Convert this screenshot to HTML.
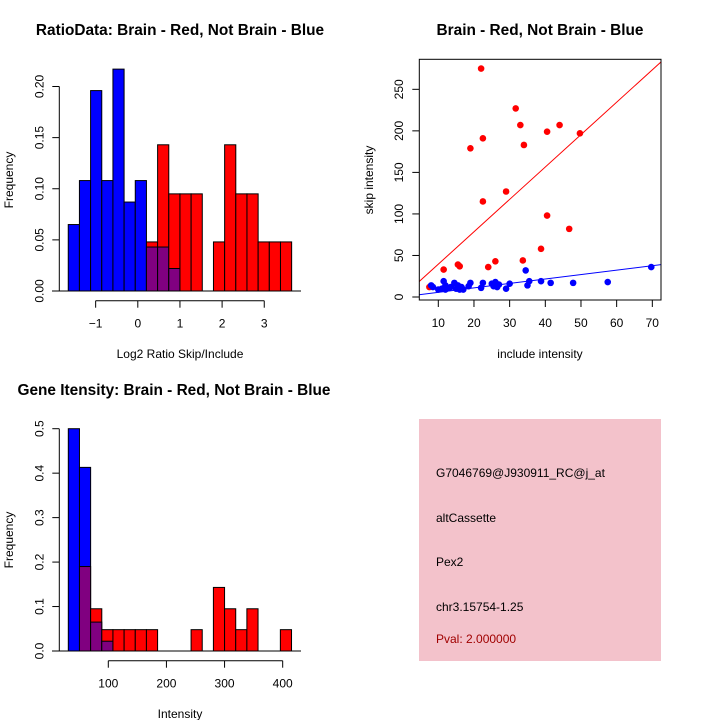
<!DOCTYPE html>
<html><head><meta charset="utf-8"><style>
body{margin:0;background:#fff}
svg{display:block;font-family:"Liberation Sans",sans-serif}
</style></head><body>
<svg id="s" width="720" height="720" xmlns="http://www.w3.org/2000/svg">
<rect width="720" height="720" fill="#fff"/>
<text x="180" y="35" text-anchor="middle" font-size="15.4" font-weight="bold">RatioData: Brain - Red, Not Brain - Blue</text>
<text x="180" y="358" text-anchor="middle" font-size="12">Log2 Ratio Skip/Include</text>
<text transform="translate(13,180) rotate(-90)" text-anchor="middle" font-size="12">Frequency</text>
<text x="540" y="35" text-anchor="middle" font-size="15.4" font-weight="bold">Brain - Red, Not Brain - Blue</text>
<text x="540" y="358" text-anchor="middle" font-size="12">include intensity</text>
<text transform="translate(373,180) rotate(-90)" text-anchor="middle" font-size="12">skip intensity</text>
<text x="174" y="395" text-anchor="middle" font-size="15.4" font-weight="bold">Gene Itensity: Brain - Red, Not Brain - Blue</text>
<text x="180" y="718" text-anchor="middle" font-size="12">Intensity</text>
<text transform="translate(13,540) rotate(-90)" text-anchor="middle" font-size="12">Frequency</text>
<g>
<rect x="419" y="419" width="242" height="242" fill="#f3c2cb"/>
<text x="436" y="477" font-size="12">G7046769@J930911_RC@j_at</text>
<text x="436" y="522" font-size="12">altCassette</text>
<text x="436" y="566" font-size="12">Pex2</text>
<text x="436" y="611" font-size="12">chr3.15754-1.25</text>
<text x="436" y="643" font-size="12" fill="#a00000">Pval: 2.000000</text>
</g>
</svg>
<script>
// Histogram 1 data
const ratioBinStart=-1.65, ratioBinWidth=0.265;
const ratioBlue=[0.065,0.108,0.196,0.108,0.217,0.087,0.108,0.043,0.043,0.022,0,0,0,0,0,0,0,0,0,0];
const ratioRed=[0,0,0,0,0,0,0,0.048,0.143,0.095,0.095,0.095,0,0.048,0.143,0.095,0.095,0.048,0.048,0.048];
const ratioXTicks=[-1,0,1,2,3];
const ratioYTicks=[0,0.05,0.10,0.15,0.20];
const ratioYLabels=["0.00","0.05","0.10","0.15","0.20"];
// Scatter data
const redInclude=[7.5,11.5,15.5,16,19,22,22.5,22.5,24,26,29,31.7,33,33.7,34,38.8,40.5,40.5,44,46.7,49.7];
const redSkip=[12,33,39,37,179,275,191,115,36,43,127,227,207,44,183,58,199,98,207,82,197];
const blueInclude=[8,8.5,10,11,11.5,12,12,13,13.5,14.5,15,15.5,16,16.5,17,18.5,19,22,22.5,25,25.5,26,26.5,27,29,30,34.5,35,35.5,38.8,41.5,47.8,57.5,69.7];
const blueSkip=[14,12,9,10,19,14,9,11,12,17,10,14,9,12,9,13,17,11,17,16,13,18,12,15,10,16,32,14,19,19,17,17,18,36];
const redFit=[0.5,3.9];
const blueFit=[0.3,0.533];
const scatterXTicks=[10,20,30,40,50,60,70];
const scatterYTicks=[0,50,100,150,200,250];
// Histogram 2 data
const intBinStart=31.2, intBinWidth=19.2;
const intBlue=[0.5,0.413,0.065,0.022,0,0,0,0,0,0,0,0,0,0,0,0,0,0,0,0];
const intRed=[0,0.19,0.095,0.048,0.048,0.048,0.048,0.048,0,0,0,0.048,0,0.143,0.095,0.048,0.095,0,0,0.048];
const intXTicks=[100,200,300,400];
const intYTicks=[0,0.1,0.2,0.3,0.4,0.5];
const intYLabels=["0.0","0.1","0.2","0.3","0.4","0.5"];

const svg=document.getElementById('s');
const NS='http://www.w3.org/2000/svg';
function mk(tag,attrs,parent){const e=document.createElementNS(NS,tag);for(const k in attrs)e.setAttribute(k,attrs[k]);(parent||svg).appendChild(e);return e;}

function hist(name,blue,red,start,w,sx,sy,xTicks,yTicks,yLabels,axY,axX,x0,x1,yTop){
  const g=mk('g',{});
  
  
  for(let i=0;i<blue.length;i++){
    const xa=sx(start+i*w), xb=sx(start+(i+1)*w);
    const b=blue[i], r=red[i], m=Math.min(b,r), mx=Math.max(b,r);
    if(mx<=0) continue;
    const topCol=b>r?'#0000ff':'#ff0000';
    const rt=mk('rect',{x:xa,y:sy(mx),width:xb-xa,height:sy(0)-sy(mx),fill:topCol,stroke:'#000','stroke-width':1},g);
    
    
    if(m>0){
      const rp=mk('rect',{x:xa,y:sy(m),width:xb-xa,height:sy(0)-sy(m),fill:'#800080',stroke:'#000','stroke-width':1},g);
      
      
    }
  }
  mk('line',{x1:x0,x2:x1,y1:sy(0),y2:sy(0),stroke:'#000'},g);
  const xa=mk('g',{},g);
  
  
  mk('line',{x1:sx(xTicks[0]),x2:sx(xTicks[xTicks.length-1]),y1:axY,y2:axY,stroke:'#000'},xa);
  xTicks.forEach(t=>{mk('line',{x1:sx(t),x2:sx(t),y1:axY,y2:axY+7,stroke:'#000'},xa);
    const tx=mk('text',{x:sx(t),y:axY+27,'text-anchor':'middle','font-size':12},xa);tx.textContent=String(t).replace('-','\u2212');});
  const ya=mk('g',{},g);
  
  
  mk('line',{x1:axX,x2:axX,y1:sy(yTicks[0]),y2:sy(yTicks[yTicks.length-1]),stroke:'#000'},ya);
  yTicks.forEach((t,i)=>{mk('line',{x1:axX,x2:axX-7,y1:sy(t),y2:sy(t),stroke:'#000'},ya);
    const tx=mk('text',{transform:`translate(${axX-16},${sy(t)}) rotate(-90)`,'text-anchor':'middle','font-size':12},ya);tx.textContent=yLabels[i];});
}
// hist 1
hist('ratio',ratioBlue,ratioRed,ratioBinStart,ratioBinWidth,
  v=>137.8+v*42.15, v=>291-v*1022.5, ratioXTicks,ratioYTicks,ratioYLabels,300.7,59.3,52,301,86.7);
// hist 2
hist('intensity',intBlue,intRed,intBinStart,intBinWidth,
  v=>108.3+(v-100)*0.5813, v=>651-v*444.6, intXTicks,intYTicks,intYLabels,660.7,59.3,52,301,428.7);

// scatter
const px=v=>438.3+(v-10)*3.567, py=v=>297-v*0.8307;
const sg=mk('g',{});


const clip=mk('clipPath',{id:'cp'},sg);mk('rect',{x:419.3,y:59.3,width:241.7,height:240.7},clip);
const lg=mk('g',{'clip-path':'url(#cp)'},sg);
[[redFit,'#ff0000','red-fit-line'],[blueFit,'#0000ff','blue-fit-line']].forEach(([f,c,n])=>{
  const l=mk('line',{x1:px(0),y1:py(f[0]),x2:px(80),y2:py(f[0]+f[1]*80),stroke:c,'stroke-width':1},lg);
  
  
});
redInclude.forEach((v,i)=>{const c=mk('circle',{cx:px(v),cy:py(redSkip[i]),r:3.3,fill:'#ff0000'},sg);
  
  });
blueInclude.forEach((v,i)=>{const c=mk('circle',{cx:px(v),cy:py(blueSkip[i]),r:3.3,fill:'#0000ff'},sg);
  
  });
mk('rect',{x:419.3,y:59.3,width:241.7,height:240.7,fill:'none',stroke:'#000'},sg);
const sxa=mk('g',{},sg);


scatterXTicks.forEach(t=>{mk('line',{x1:px(t),x2:px(t),y1:300,y2:307,stroke:'#000'},sxa);
  const tx=mk('text',{x:px(t),y:327,'text-anchor':'middle','font-size':12},sxa);tx.textContent=t;});
const sya=mk('g',{},sg);


scatterYTicks.forEach(t=>{mk('line',{x1:419.3,x2:412.3,y1:py(t),y2:py(t),stroke:'#000'},sya);
  const tx=mk('text',{transform:`translate(403,${py(t)}) rotate(-90)`,'text-anchor':'middle','font-size':12},sya);tx.textContent=t;});
</script>
</body></html>
